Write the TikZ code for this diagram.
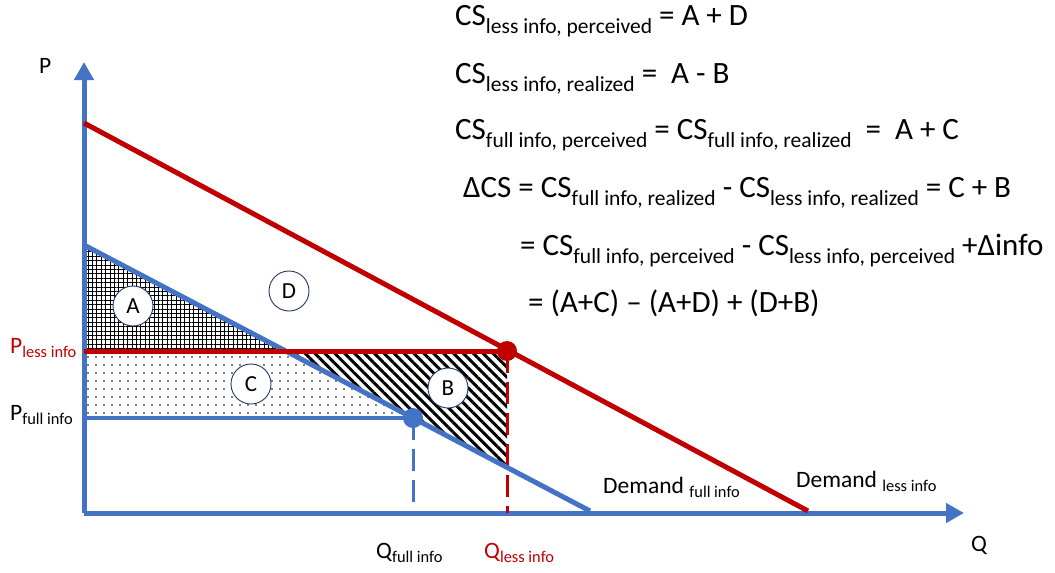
\documentclass[tikz,border=0pt]{standalone}
\usepackage{fontspec}
\setmainfont{Carlito}
\usetikzlibrary{arrows.meta,patterns.meta}
\definecolor{axisblue}{RGB}{68,114,196}
\definecolor{lessred}{RGB}{192,0,0}
\definecolor{ringnavy}{RGB}{31,56,100}
\newcommand{\eqsub}[1]{\raisebox{-8pt}{\fontsize{21.5}{21.5}\selectfont #1}}
\newcommand{\labsub}[1]{\raisebox{-4.5pt}{\fontsize{16.4}{16.4}\selectfont #1}}
\tikzset{
  axis/.style={axisblue,line width=5pt,-{Triangle[length=18pt,width=19pt]}},
  fullcurve/.style={axisblue,line width=5pt},
  lesscurve/.style={lessred,line width=5pt},
  fullprice/.style={axisblue,line width=4.5pt},
  lessprice/.style={lessred,line width=5pt},
  fulldrop/.style={axisblue,line width=3pt,dash pattern=on 22pt off 9pt},
  lessdrop/.style={lessred,line width=3pt,dash pattern=on 22pt off 9pt},
  eqpoint/.style={circle,inner sep=0pt,minimum size=20pt},
  area/.style={circle,draw=ringnavy,line width=0.9pt,fill=white,inner sep=0pt,
               minimum size=40pt,font=\fontsize{23}{23}\selectfont},
  eqn/.style={anchor=base west,inner sep=0pt,font=\fontsize{31}{36}\selectfont},
  lab/.style={anchor=base west,inner sep=0pt,font=\fontsize{23.5}{28}\selectfont},
}

\begin{document}
\begin{tikzpicture}[x=1pt,y=-1pt]
  \path[use as bounding box] (0,0) rectangle (1055,573);

  % key points of the two demand curves
  \coordinate (O) at (84,513);
  \coordinate (Ptop) at (84,62);
  \coordinate (Qend) at (964,513);
  \coordinate (Dless0) at (84,123);
  \coordinate (Dless1) at (808,511);
  \coordinate (Dfull0) at (84,245);
  \coordinate (Dfull1) at (590,511);
  \coordinate (Pless) at (84,351);
  \coordinate (Pfull) at (84,418);
  \coordinate (Kink) at (285,351);
  \coordinate (Eless) at (507,351);
  \coordinate (Efull) at (413,418);
  \coordinate (Bfoot) at (507,468);
  \coordinate (Qfull) at (413,513);
  \coordinate (Qless) at (507,513);

  % shaded areas
  \fill[pattern={Hatch[angle=0,distance=4.4pt,line width=0.9pt]}] (Dfull0) -- (Kink) -- (Pless) -- cycle;
  \fill[pattern={Dots[distance=8pt,radius=0.9pt]}] (Pless) -- (Kink) -- (Efull) -- (Pfull) -- cycle;
  \fill[pattern={Lines[angle=-45,distance=7pt,line width=3pt]}] (Kink) -- (Eless) -- (Bfoot) -- cycle;

  \draw[axis] (O) -- (Ptop);
  \draw[axis] (O) -- (Qend);

  \draw[lessdrop] (Eless) -- (Qless);
  \draw[fulldrop] (Efull) -- (Qfull);
  \draw[lesscurve] (Dless0) -- (Dless1);
  \draw[fullcurve] (Dfull0) -- (Dfull1);
  \draw[lessprice] (Pless) -- (Eless);
  \draw[fullprice] (Pfull) -- (Efull);

  \node[eqpoint,fill=lessred] (ptless) at (Eless) {};
  \node[eqpoint,fill=axisblue] (ptfull) at (Efull) {};

  \node[area] (areaA) at (133,306) {A};
  \node[area] (areaD) at (289,291) {D};
  \node[area] (areaC) at (251,384) {C};
  \node[area] (areaB) at (448,388) {B};

  % axis labels
  \node[lab] (labP) at (39,73) {P};
  \node[lab] (labQ) at (971,551) {Q};
  \node[lab,text=lessred] (labPless) at (10,353) {P\labsub{less info}};
  \node[lab] (labPfull) at (10,420) {P\labsub{full info}};
  \node[lab] (labQfull) at (376,558) {Q\labsub{full info}};
  \node[lab,text=lessred] (labQless) at (484,558) {Q\labsub{less info}};
  \node[lab] (labDfull) at (603,493) {Demand \labsub{full info}};
  \node[lab] (labDless) at (796,487) {Demand \labsub{less info}};

  % surplus accounting
  \node[eqn] (eq1) at (455,25) {CS\eqsub{less info, perceived} = A + D};
  \node[eqn] (eq2) at (455,83) {CS\eqsub{less info, realized} =\ \ A - B};
  \node[eqn] (eq3) at (455,139) {CS\eqsub{full info, perceived} = CS\eqsub{full info, realized}\ \ =\ \ A + C};
  \node[eqn] (eq4) at (463,197) {ΔCS = CS\eqsub{full info, realized} - CS\eqsub{less info, realized} = C + B};
  \node[eqn] (eq5) at (520,255) {= CS\eqsub{full info, perceived} - CS\eqsub{less info, perceived} +Δinfo};
  \node[eqn] (eq6) at (528,312) {= (A+C) – (A+D) + (D+B)};
\end{tikzpicture}
\end{document}
